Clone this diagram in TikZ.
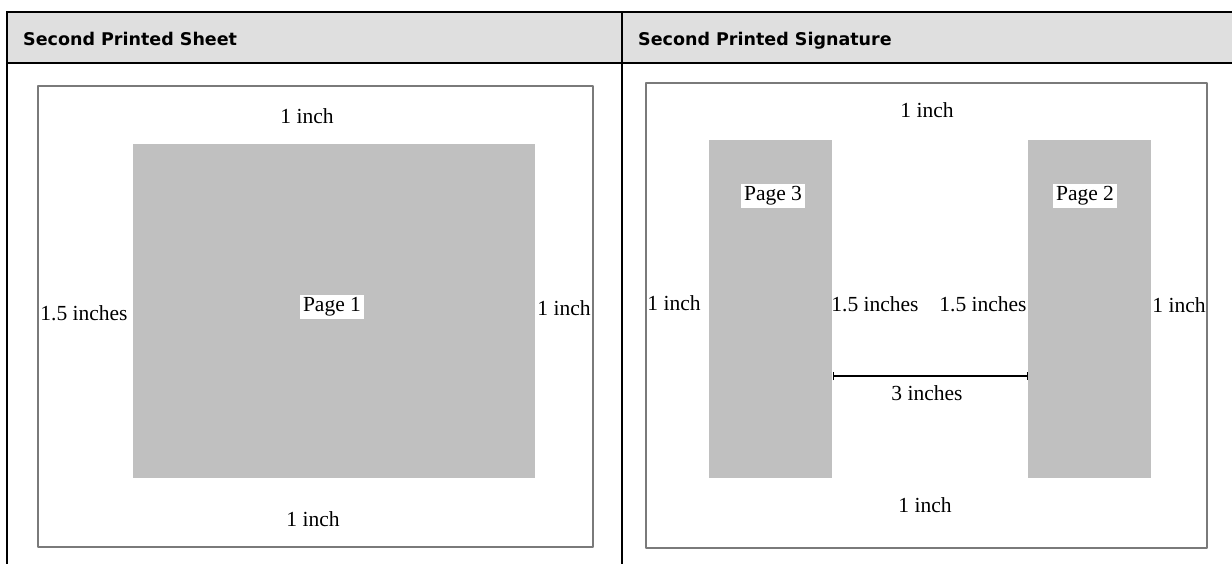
\documentclass[tikz,border=0pt]{standalone}
\usepackage{fontspec}
\setmainfont{Liberation Serif}
\newfontfamily\headfont{DejaVu Sans}
\usetikzlibrary{arrows.meta}
\definecolor{headgray}{HTML}{DFDFDF}
\definecolor{pagegray}{HTML}{C0C0C0}
\definecolor{framegray}{HTML}{7A7A7A}
\begin{document}
\begin{tikzpicture}[x=1pt, y=-1pt, line join=round, line cap=round,
	dim/.style={font=\fontsize{21.5}{24}\selectfont, inner sep=1pt},
	pagelbl/.style={dim, fill=white, inner xsep=3pt, inner ysep=3pt},
	head/.style={font=\headfont\bfseries\fontsize{17.5}{20}\selectfont, anchor=base west, inner sep=0pt},
	sheet/.style={draw=framegray, line width=2pt, fill=white},
	rule/.style={line width=2pt, line cap=butt}]
	\useasboundingbox (0,0) rectangle (1232,564);
	% table
	\fill[headgray] (7,12) rectangle (1232,63);
	\draw[rule] (6,12) -- (1232,12) (6,63) -- (1232,63) (7,12) -- (7,564) (622,12) -- (622,564);
	\node[head] (hl) at (23,46) {Second Printed Sheet};
	\node[head] (hr) at (638,46) {Second Printed Signature};
	% sheet
	\draw[sheet] (38,86) rectangle (593,547);
	\fill[pagegray] (133,144) rectangle (535,478);
	\node[dim] (st) at (307,116) {1 inch};
	\node[dim] (sl) at (84,313) {1.5 inches};
	\node[pagelbl] (p1) at (332,307) {Page 1};
	\node[dim] (sr) at (564,308) {1 inch};
	\node[dim] (sb) at (313,519) {1 inch};
	% signature
	\draw[sheet] (646,83) rectangle (1207,548);
	\foreach \x in {709,1028} \fill[pagegray] (\x,140) rectangle ++(123,338);
	\node[dim] (gt) at (927,110) {1 inch};
	\node[pagelbl] (p3) at (773,196) {Page 3};
	\node[pagelbl] (p2) at (1085,196) {Page 2};
	\node[dim] (gl) at (674,303) {1 inch};
	\node[dim] (gm1) at (875,304) {1.5 inches};
	\node[dim] (gm2) at (983,304) {1.5 inches};
	\node[dim] (gr) at (1179,305) {1 inch};
	\coordinate (G1) at (833,376);
	\coordinate (G2) at (1028,376);
	\draw[line width=1.2pt, {Bar[width=8pt]}-{Bar[width=8pt]}] (G1) -- (G2);
	\node[dim] (gw) at (927,393) {3 inches};
	\node[dim] (gb) at (925,505) {1 inch};
\end{tikzpicture}
\end{document}
